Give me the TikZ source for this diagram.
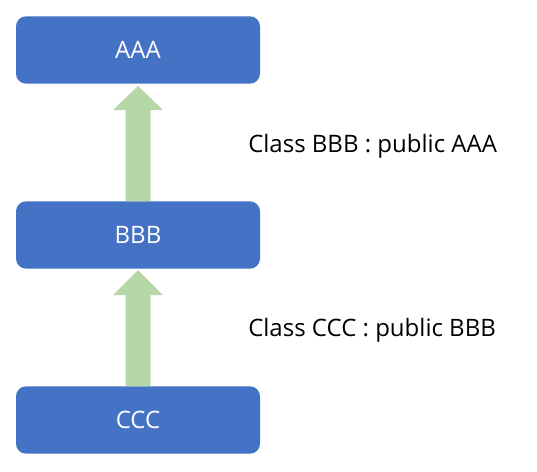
\documentclass[tikz,border=0pt]{standalone}
\usepackage{fontspec}
\setmainfont{Open Sans}
\definecolor{boxblue}{HTML}{4472C4}
\definecolor{arrgreen}{HTML}{B6D7A8}
\begin{document}
\begin{tikzpicture}[x=0.75pt,y=-0.75pt,
  classbox/.style={fill=boxblue,draw=none,rounded corners=7.5pt,minimum width=183pt,minimum height=50.5pt,text=white,font=\fontsize{18pt}{20pt}\selectfont,inner sep=0pt},
  label/.style={anchor=base west,font=\fontsize{18pt}{20pt}\selectfont,inner sep=0pt},
  blockarrow/.style={fill=arrgreen,draw=none}]
\useasboundingbox (0,0) rectangle (537,472);
\node[classbox] (A) at (138,50) {AAA};
\node[classbox] (B) at (138,235) {BBB};
\node[classbox] (C) at (138,420) {CCC};
\fill[blockarrow] (125.5,201) -- (125.5,110) -- (113,110) -- (138,86) -- (163,110) -- (150.5,110) -- (150.5,201) -- cycle;
\fill[blockarrow] (125.5,386) -- (125.5,295) -- (113,295) -- (138,270) -- (163,295) -- (150.5,295) -- (150.5,386) -- cycle;
\node[label] (L1) at (248,152) {Class BBB : public AAA};
\node[label] (L2) at (248,336) {Class CCC : public BBB};
\end{tikzpicture}
\end{document}
